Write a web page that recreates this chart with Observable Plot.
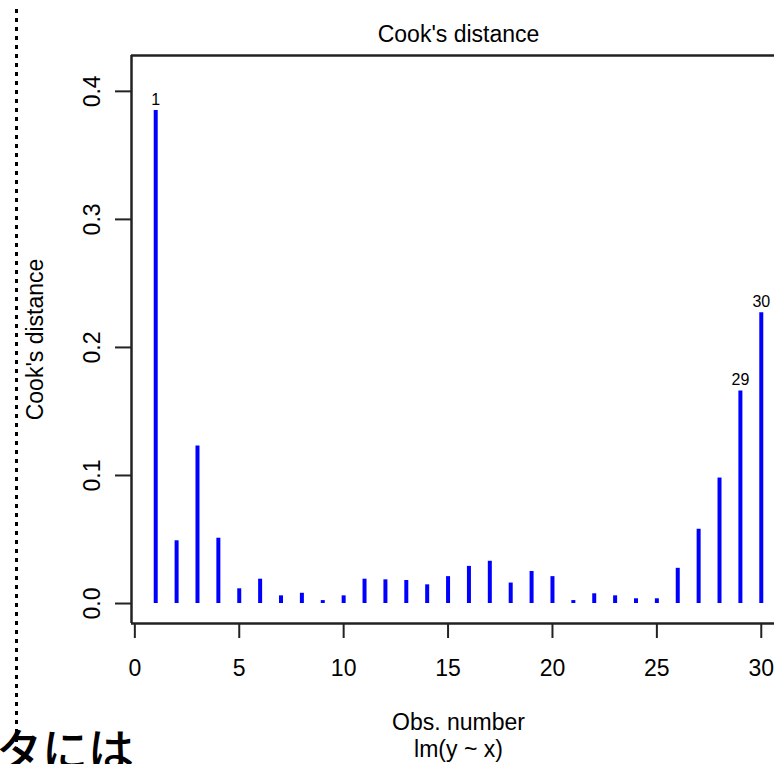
<!DOCTYPE html>
<html>
<head>
<meta charset="utf-8">
<script src="https://cdn.jsdelivr.net/npm/d3@7"></script>
<script src="https://cdn.jsdelivr.net/npm/@observablehq/plot@0.6"></script>
<style>
  html, body { margin: 0; padding: 0; background: #fff; overflow: hidden; }
  #wrap { position: relative; width: 774px; height: 764px; overflow: hidden; }
  #dots { position: absolute; left: 15px; top: 9px; width: 2.5px; height: 744px;
          background: repeating-linear-gradient(to bottom, #000 0 4.5px, transparent 4.5px 9px); z-index: 2; }
  #jp { position: absolute; left: -4px; top: 724px; font-family: "Noto Sans CJK JP", sans-serif;
        font-size: 46px; line-height: 46px; font-weight: 500; color: #000; white-space: nowrap; z-index: 1; }
</style>
</head>
<body>
<div id="wrap">
  <div id="chart"></div>
  <div id="jp">タには</div>
  <div id="dots"></div>
</div>
<script>
const obs = d3.range(1, 31);
const cook = [0.385, 0.049, 0.123, 0.051, 0.0115, 0.019, 0.006, 0.008, 0.0023, 0.006,
              0.019, 0.0185, 0.018, 0.0146, 0.021, 0.029, 0.033, 0.016, 0.025, 0.021,
              0.0023, 0.0076, 0.006, 0.0037, 0.0037, 0.0275, 0.058, 0.098, 0.166, 0.227];
const xTicks = [0, 5, 10, 15, 20, 25, 30];
const yTicks = [0.0, 0.1, 0.2, 0.3, 0.4];
const title = "Cook's distance";
const xLabel = "Obs. number";
const subLabel = "lm(y ~ x)";
const yLabel = "Cook's distance";

const data = obs.map((o, i) => ({obs: o, cook: cook[i]}));
const top3 = data.slice().sort((a, b) => b.cook - a.cook).slice(0, 3);

// R-style usr ranges (4% padding)
const xDom = [-0.16, 31.16];
const yDom = [-0.0156, 0.428];
const xMid = (xDom[0] + xDom[1]) / 2;
const yMid = (yDom[0] + yDom[1]) / 2;

const font = "'Liberation Sans', Arial, Helvetica, sans-serif";
const ink = "#222";
const fs = 23;

const chart = Plot.plot({
  width: 774,
  height: 764,
  marginTop: 55,
  marginBottom: 141,
  marginLeft: 131,
  marginRight: 0,
  style: {fontFamily: font, fontSize: fs + "px", background: "#fff", color: "#000"},
  x: {domain: xDom, range: [131, 785], axis: null},
  y: {domain: yDom, axis: null},
  marks: [
    // box (top, left, bottom)
    Plot.ruleY([yDom[1]], {stroke: ink, strokeWidth: 2.5}),
    Plot.ruleY([yDom[0]], {stroke: ink, strokeWidth: 2.5}),
    Plot.ruleX([xDom[0]], {stroke: ink, strokeWidth: 2.5}),
    // bars (type = "h")
    Plot.ruleX(data, {x: "obs", y1: 0, y2: "cook", stroke: "#0000ff", strokeWidth: 4}),
    // labels of largest
    Plot.text(top3, {x: "obs", y: "cook", text: d => String(d.obs), dy: -11, fontSize: 16, fill: "#000"}),
    // axes
    Plot.axisX(xTicks, {anchor: "bottom", tickSize: 15, tickPadding: 21.5, stroke: ink, strokeWidth: 2, fontSize: fs, fill: "#000", label: null, tickFormat: d => String(d)}),
    Plot.axisY(yTicks, {anchor: "left", tickSize: 16, tickPadding: 16, tickRotate: -90, stroke: ink, strokeWidth: 2, fontSize: fs, fill: "#000", label: null, tickFormat: d3.format(".1f")}),
    // titles
    Plot.text([title], {x: xMid, frameAnchor: "top", lineAnchor: "middle", dy: -21, text: d => d, fontSize: fs, fill: "#000"}),
    Plot.text([xLabel], {x: xMid, frameAnchor: "bottom", lineAnchor: "middle", dy: 99, text: d => d, fontSize: fs, fill: "#000"}),
    Plot.text([subLabel], {x: xMid, frameAnchor: "bottom", lineAnchor: "middle", dy: 126, text: d => d, fontSize: fs, fill: "#000"}),
    Plot.text([yLabel], {y: yMid, frameAnchor: "left", textAnchor: "middle", lineAnchor: "middle", dx: -96, rotate: -90, text: d => d, fontSize: fs, fill: "#000"})
  ]
});
document.getElementById("chart").appendChild(chart);
</script>
</body>
</html>
